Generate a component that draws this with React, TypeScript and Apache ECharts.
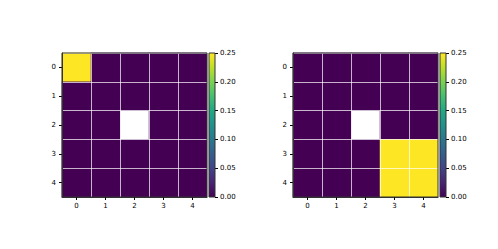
import React, { useEffect, useRef } from "react";
import * as echarts from "echarts";

const xCats = ["0", "1", "2", "3", "4"];
const yCats = ["0", "1", "2", "3", "4"];
// rows (y) of values, null = missing (NaN)
const leftValues: (number | null)[][] = [
  [0.25, 0, 0, 0, 0],
  [0, 0, 0, 0, 0],
  [0, 0, null, 0, 0],
  [0, 0, 0, 0, 0],
  [0, 0, 0, 0, 0],
];
const rightValues: (number | null)[][] = [
  [0, 0, 0, 0, 0],
  [0, 0, 0, 0, 0],
  [0, 0, null, 0, 0],
  [0, 0, 0, 0.25, 0.25],
  [0, 0, 0, 0.25, 0.25],
];
const cbMin = 0;
const cbMax = 0.25;
const cbInterval = 0.05;

const viridis = [
  "#440154", "#482475", "#414487", "#355f8d", "#2a788e", "#21918c",
  "#22a884", "#44bf70", "#7ad151", "#bddf26", "#fde725",
];

const FONT = "DejaVu Sans";
const frame = "#333333";
const gridLine = "rgba(255,255,255,0.7)";

function toData(vals: (number | null)[][]) {
  const out: any[] = [];
  vals.forEach((row, yi) =>
    row.forEach((v, xi) => out.push([xi, yi, v === null ? "-" : v]))
  );
  return out;
}

export default function App() {
  const ref = useRef<HTMLDivElement>(null);
  useEffect(() => {
    if (!ref.current) return;
    const chart = echarts.init(ref.current, undefined, { renderer: "svg" });
    const grids = [
      { left: 62, top: 53, width: 145, height: 144 },
      { left: 209, top: 53, width: 6, height: 144 },
      { left: 293, top: 53, width: 145, height: 144 },
      { left: 440, top: 53, width: 6, height: 144 },
    ].map((g) => ({
      ...g,
      show: true,
      z: 10,
      backgroundColor: "transparent",
      borderColor: frame,
      borderWidth: 1,
    }));

    const axisLabel = { fontFamily: FONT, fontSize: 7, color: "#000" };
    const heatX = (gi: number) => ({
      type: "category",
      gridIndex: gi,
      data: xCats,
      position: "bottom",
      z: 5,
      axisLine: { show: true, lineStyle: { color: frame, width: 1 } },
      axisTick: { show: true, alignWithLabel: true, length: 3, lineStyle: { color: "#000" } },
      axisLabel: { ...axisLabel, margin: 5 },
      splitLine: { show: true, lineStyle: { color: gridLine, width: 1 } },
    });
    const heatY = (gi: number) => ({
      type: "category",
      gridIndex: gi,
      data: yCats,
      inverse: true,
      position: "left",
      z: 5,
      axisLine: { show: true, lineStyle: { color: frame, width: 1 } },
      axisTick: { show: true, alignWithLabel: true, length: 3, lineStyle: { color: "#000" } },
      axisLabel: { ...axisLabel, margin: 6 },
      splitLine: { show: true, lineStyle: { color: gridLine, width: 1 } },
    });
    const cbX = (gi: number) => ({
      type: "category",
      gridIndex: gi,
      data: ["cb"],
      show: false,
    });
    const cbY = (gi: number) => ({
      type: "value",
      gridIndex: gi,
      min: cbMin,
      max: cbMax,
      interval: cbInterval,
      position: "right",
      axisLine: { show: false },
      axisTick: { show: true, length: 3, lineStyle: { color: "#000" } },
      axisLabel: { ...axisLabel, margin: 5, formatter: (v: number) => v.toFixed(2) },
      splitLine: { show: false },
    });

    const gradient = new echarts.graphic.LinearGradient(
      0, 1, 0, 0,
      viridis.map((c, i) => ({ offset: i / (viridis.length - 1), color: c }))
    );

    chart.setOption({
      animation: false,
      backgroundColor: "#fff",
      grid: grids,
      xAxis: [heatX(0), cbX(1), heatX(2), cbX(3)],
      yAxis: [heatY(0), cbY(1), heatY(2), cbY(3)],
      visualMap: [
        { type: "continuous", show: false, min: cbMin, max: cbMax, seriesIndex: 0, inRange: { color: viridis } },
        { type: "continuous", show: false, min: cbMin, max: cbMax, seriesIndex: 2, inRange: { color: viridis } },
      ],
      series: [
        { type: "heatmap", xAxisIndex: 0, yAxisIndex: 0, data: toData(leftValues) },
        { type: "bar", xAxisIndex: 1, yAxisIndex: 1, data: [cbMax], barWidth: "100%", itemStyle: { color: gradient } },
        { type: "heatmap", xAxisIndex: 2, yAxisIndex: 2, data: toData(rightValues) },
        { type: "bar", xAxisIndex: 3, yAxisIndex: 3, data: [cbMax], barWidth: "100%", itemStyle: { color: gradient } },
      ],
    });
    return () => chart.dispose();
  }, []);
  return (
    <div
      ref={ref}
      style={{ position: "fixed", left: 0, top: 0, width: 498, height: 249 }}
    />
  );
}
